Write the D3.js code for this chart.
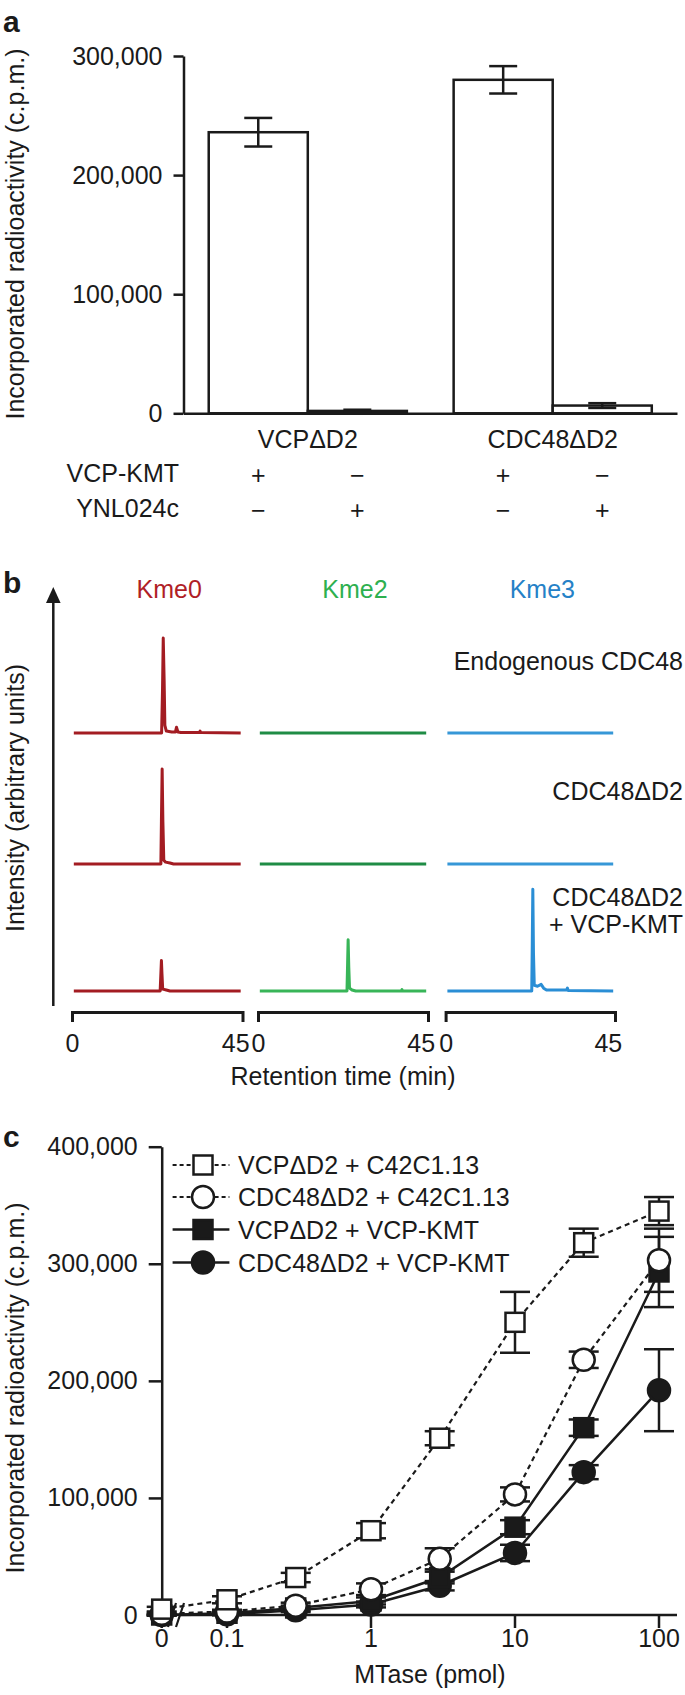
<!DOCTYPE html>
<html><head><meta charset="utf-8">
<script src="https://cdn.jsdelivr.net/npm/d3@7"></script>
<style>
html,body{margin:0;padding:0;background:#fff;}
svg text{font-family:"Liberation Sans",Arial,Helvetica,sans-serif;fill:#1a1a1a;}
</style></head><body>
<svg id="fig" width="685" height="1695"></svg>
<script>
// ---------------- Panel a data ----------------
const aGroups = ["VCPΔD2", "CDC48ΔD2"];
const aEnzymes = ["VCP-KMT", "YNL024c"];
const aMeans = [236000, 2000, 280000, 6500];
const aErrs = [12000, 1000, 11500, 2000];
const aVcpKmtSign = ["+", "−", "+", "−"];
const aYnlSign = ["−", "+", "−", "+"];
const aTicks = [0, 100000, 200000, 300000];

// ---------------- Panel b data (time min, intensity a.u.) ----------------
const bChannels = ["Kme0", "Kme2", "Kme3"];
const bSamples = [["Endogenous CDC48"], ["CDC48ΔD2"], ["CDC48ΔD2", "+ VCP-KMT"]];
const bTimeTicks = [0, 45];
const trEndoKme0 = [[0.5,0],[24.7,0],[24.95,45],[25.15,100],[25.4,55],[25.6,8],[26.0,2],[27.5,1],[28.5,1],[28.8,6],[29.2,1],[30,0.5],[35.1,0.5],[35.3,2],[35.5,0.5],[46.5,0]];
const trEndoKme2 = [[0.5,0],[46.5,0]];
const trEndoKme3 = [[0.5,0],[46.5,0]];
const trD2Kme0 = [[0.5,0],[24.5,0],[24.65,45],[24.85,100],[25.05,45],[25.3,4],[25.8,2],[27,1],[28,0],[46.5,0]];
const trD2Kme2 = [[0.5,0],[46.5,0]];
const trD2Kme3 = [[0.5,0],[46.5,0]];
const trKmtKme0 = [[0.5,0],[24.3,0],[24.5,18],[24.65,32],[24.8,18],[25.0,2],[26,1],[27,0],[46.5,0]];
const trKmtKme2 = [[0.5,0],[24.6,0],[24.78,30],[24.92,54],[25.1,25],[25.3,3],[26,1],[27,0],[39.6,0],[39.8,1.5],[40,0],[46.5,0]];
const trKmtKme3 = [[0.5,0],[23.9,0],[24.05,50],[24.2,107],[24.38,40],[24.6,6],[25.5,5],[26.5,7],[27.2,3],[28,1],[33.6,1],[33.8,3],[34,0.5],[46.5,0]];

// ---------------- Panel c data ----------------
const cDoses = [0, 0.1, 0.3, 1, 3, 10, 30, 100];
const cTicksX = [0, 0.1, 1, 10, 100];
const cTicksY = [0, 100000, 200000, 300000, 400000];
const cNames = ["VCPΔD2 + C42C1.13", "CDC48ΔD2 + C42C1.13", "VCPΔD2 + VCP-KMT", "CDC48ΔD2 + VCP-KMT"];
const vcpC42Mean = [5000, 13000, 32000, 72000, 151000, 250000, 318000, 345000];
const vcpC42Err = [2000, 3000, 4000, 6500, 6000, 26000, 12000, 12000];
const cdcC42Mean = [1000, 3000, 8000, 22000, 48000, 103000, 218000, 303000];
const cdcC42Err = [1000, 1500, 2500, 5000, 9000, 6000, 7000, 27000];
const vcpKmtMean = [0, 1500, 6000, 12000, 32000, 75000, 160000, 293000];
const vcpKmtErr = [500, 1000, 2000, 3000, 5000, 6000, 7000, 30000];
const cdcKmtMean = [0, 500, 4000, 9000, 25000, 53000, 122000, 192000];
const cdcKmtErr = [500, 800, 1500, 2500, 4000, 7000, 6000, 35000];

// ---------------- drawing ----------------
const INK = "#1a1a1a";
const FS = 25;
const svg = d3.select("#fig");
svg.append("rect").attr("width", 685).attr("height", 1695).attr("fill", "#fff");

function panelLetter(t, x, y) {
  svg.append("text").attr("x", x).attr("y", y).attr("font-size", 30).attr("font-weight", "bold").text(t);
}
function yLabel(t, x, y) {
  svg.append("text").attr("transform", `translate(${x},${y}) rotate(-90)`)
    .attr("text-anchor", "middle").attr("font-size", FS).text(t);
}
function styleAxis(g) {
  g.attr("font-size", FS);
  g.selectAll("path,line").attr("stroke", INK).attr("stroke-width", 2.5);
  g.selectAll("text").attr("fill", INK);
}

// ===== Panel a =====
panelLetter("a", 3, 32);
yLabel("Incorporated radioactivity (c.p.m.)", 24, 234);
const ay = d3.scaleLinear().domain([0, 300000]).range([413.3, 56]);
const axG = d3.scaleBand().domain(aGroups).range([183.5, 677]).paddingInner(0.191).paddingOuter(0.103);
const axE = d3.scaleBand().domain(aEnzymes).range([0, axG.bandwidth()]);
const aBars = aMeans.map((m, i) => ({ g: aGroups[Math.floor(i / 2)], e: aEnzymes[i % 2], m, err: aErrs[i], s1: aVcpKmtSign[i], s2: aYnlSign[i] }));
const aG = svg.append("g");
aG.selectAll("rect.bar").data(aBars).join("rect").attr("class", "bar")
  .attr("x", d => axG(d.g) + axE(d.e)).attr("width", axE.bandwidth())
  .attr("y", d => ay(d.m)).attr("height", d => ay(0) - ay(d.m))
  .attr("fill", "#fff").attr("stroke", INK).attr("stroke-width", 2.5);
const aCx = d => axG(d.g) + axE(d.e) + axE.bandwidth() / 2;
const aEb = aG.selectAll("g.eb").data(aBars).join("g").attr("class", "eb");
aEb.append("line").attr("x1", aCx).attr("x2", aCx).attr("y1", d => ay(d.m + d.err)).attr("y2", d => ay(d.m - d.err)).attr("stroke", INK).attr("stroke-width", 2.5);
[1, -1].forEach(sg => aEb.append("line").attr("x1", d => aCx(d) - 14).attr("x2", d => aCx(d) + 14)
  .attr("y1", d => ay(d.m + sg * d.err)).attr("y2", d => ay(d.m + sg * d.err)).attr("stroke", INK).attr("stroke-width", 2.5));
aG.append("g").attr("transform", "translate(183.5,0)")
  .call(d3.axisLeft(ay).tickValues(aTicks).tickSize(10).tickSizeOuter(0).tickPadding(11).tickFormat(d3.format(",")))
  .call(styleAxis);
aG.append("g").attr("transform", `translate(0,${ay(0)})`)
  .call(d3.axisBottom(axG).tickSize(0).tickPadding(17))
  .call(styleAxis);
aG.selectAll("text.s1").data(aBars).join("text").attr("class", "s1").attr("x", aCx).attr("y", 484).attr("text-anchor", "middle").attr("font-size", FS).text(d => d.s1);
aG.selectAll("text.s2").data(aBars).join("text").attr("class", "s2").attr("x", aCx).attr("y", 518.5).attr("text-anchor", "middle").attr("font-size", FS).text(d => d.s2);
aG.append("text").attr("x", 179).attr("y", 482).attr("text-anchor", "end").attr("font-size", FS).text(aEnzymes[0]);
aG.append("text").attr("x", 179).attr("y", 517).attr("text-anchor", "end").attr("font-size", FS).text(aEnzymes[1]);

// ===== Panel b =====
panelLetter("b", 3, 593);
yLabel("Intensity (arbitrary units)", 24, 798);
const bRanges = [[72, 242.5], [258, 428], [445.6, 615]];
const bx = bRanges.map(r => d3.scaleLinear().domain([0, 47]).range(r));
const rowBase = [733, 864, 991];
const by = rowBase.map(b => d3.scaleLinear().domain([0, 100]).range([b, b - 95]));
const bTraces = [[trEndoKme0, trEndoKme2, trEndoKme3], [trD2Kme0, trD2Kme2, trD2Kme3], [trKmtKme0, trKmtKme2, trKmtKme3]];
const bLabelColors = ["#b01e27", "#2db04f", "#2581c7"];
const bLineColors = [["#a31c22", "#1f8c45", "#3797d7"], ["#a31c22", "#1f8c45", "#3797d7"], ["#a31c22", "#38b558", "#2a8ed5"]];
const bG = svg.append("g");
bChannels.forEach((ch, c) => {
  bG.append("text").attr("x", (bRanges[c][0] + bRanges[c][1]) / 2 + 12).attr("y", 598).attr("text-anchor", "middle")
    .attr("font-size", FS).style("fill", bLabelColors[c]).text(ch);
});
bTraces.forEach((row, r) => row.forEach((tr, c) => {
  const line = d3.line().x(d => bx[c](d[0])).y(d => by[r](d[1]));
  bG.append("path").attr("d", line(tr)).attr("fill", "none").attr("stroke", bLineColors[r][c])
    .attr("stroke-width", 3).attr("stroke-linejoin", "round");
}));
const bLabelBase = [[670], [800], [906, 933]];
bSamples.forEach((lines, r) => lines.forEach((t, k) => {
  bG.append("text").attr("x", 683).attr("y", bLabelBase[r][k]).attr("text-anchor", "end").attr("font-size", FS).text(t);
}));
// intensity arrow
bG.append("line").attr("x1", 53.3).attr("x2", 53.3).attr("y1", 1006).attr("y2", 598).attr("stroke", INK).attr("stroke-width", 2.5);
bG.append("path").attr("d", "M53.3,587 L46,603 L60.6,603 Z").attr("fill", INK);
// time axes
bx.forEach((s, c) => {
  const g = bG.append("g").attr("transform", "translate(0,1012)");
  g.call(d3.axisBottom(s).tickValues(bTimeTicks).tickSizeInner(0).tickSizeOuter(10).tickPadding(22));
  styleAxis(g);
  g.select("path.domain").attr("stroke-width", 3);
});
bG.append("text").attr("x", 343).attr("y", 1085).attr("text-anchor", "middle").attr("font-size", FS).text("Retention time (min)");

// ===== Panel c =====
panelLetter("c", 3, 1147);
yLabel("Incorporated radioactivity (c.p.m.)", 24, 1388);
const cx = d3.scaleLog().domain([0.1, 100]).range([227, 659]);
const cZeroX = 161.7;
const cxPos = d => d === 0 ? cZeroX : cx(d);
const cy = d3.scaleLinear().domain([0, 400000]).range([1615, 1146.7]);
const cG = svg.append("g");
cG.append("g").attr("transform", `translate(${cZeroX},0)`)
  .call(d3.axisLeft(cy).tickValues(cTicksY).tickSize(13).tickSizeOuter(0).tickPadding(11).tickFormat(d3.format(",")))
  .call(styleAxis);
// x axis with break
const xAxisY = cy(0);
cG.append("line").attr("x1", cZeroX).attr("x2", 172).attr("y1", xAxisY).attr("y2", xAxisY).attr("stroke", INK).attr("stroke-width", 2.5);
cG.append("line").attr("x1", 180).attr("x2", 677).attr("y1", xAxisY).attr("y2", xAxisY).attr("stroke", INK).attr("stroke-width", 2.5);
[168, 176].forEach(x0 => cG.append("line").attr("x1", x0).attr("y1", xAxisY + 12).attr("x2", x0 + 8).attr("y2", xAxisY - 12).attr("stroke", INK).attr("stroke-width", 2.2));
cG.selectAll("line.xt").data(cTicksX).join("line").attr("class", "xt")
  .attr("x1", cxPos).attr("x2", cxPos).attr("y1", xAxisY).attr("y2", xAxisY + 13).attr("stroke", INK).attr("stroke-width", 2.5);
cG.selectAll("text.xl").data(cTicksX).join("text").attr("class", "xl")
  .attr("x", cxPos).attr("y", 1647).attr("text-anchor", "middle").attr("font-size", FS).text(d => String(d));
cG.append("text").attr("x", 430).attr("y", 1683).attr("text-anchor", "middle").attr("font-size", FS).text("MTase (pmol)");

const cSeries = [
  { name: cNames[3], mean: cdcKmtMean, err: cdcKmtErr, shape: "circle", filled: true, dashed: false },
  { name: cNames[2], mean: vcpKmtMean, err: vcpKmtErr, shape: "square", filled: true, dashed: false },
  { name: cNames[1], mean: cdcC42Mean, err: cdcC42Err, shape: "circle", filled: false, dashed: true },
  { name: cNames[0], mean: vcpC42Mean, err: vcpC42Err, shape: "square", filled: false, dashed: true }
];
function marker(g, s, x, y) {
  if (s.shape === "square") {
    g.append("rect").attr("x", x - 9.5).attr("y", y - 9.5).attr("width", 19).attr("height", 19)
      .attr("fill", s.filled ? INK : "#fff").attr("stroke", INK).attr("stroke-width", 2.5);
  } else {
    g.append("circle").attr("cx", x).attr("cy", y).attr("r", 11)
      .attr("fill", s.filled ? INK : "#fff").attr("stroke", INK).attr("stroke-width", 2.5);
  }
}
const cLine = d3.line().x(d => cxPos(d.x)).y(d => cy(d.y));
cSeries.forEach(s => {
  const pts = cDoses.map((x, i) => ({ x, y: s.mean[i], e: s.err[i] }));
  cG.append("path").attr("d", cLine(pts)).attr("fill", "none").attr("stroke", INK)
    .attr("stroke-width", s.dashed ? 2.2 : 2.5).attr("stroke-dasharray", s.dashed ? "5,4" : null);
  s.pts = pts;
});
cSeries.forEach(s => {
  s.pts.forEach(p => {
    const X = cxPos(p.x);
    cG.append("line").attr("x1", X).attr("x2", X).attr("y1", cy(p.y + p.e)).attr("y2", cy(Math.max(0, p.y - p.e))).attr("stroke", INK).attr("stroke-width", 2.5);
    [p.y + p.e, p.y - p.e].forEach(v => cG.append("line").attr("x1", X - 15).attr("x2", X + 15).attr("y1", cy(v)).attr("y2", cy(v)).attr("stroke", INK).attr("stroke-width", 2.5));
  });
});
cSeries.forEach(s => s.pts.forEach(p => marker(cG, s, cxPos(p.x), cy(p.y))));

// legend
const legOrder = [3, 2, 1, 0];
const legY = [1165, 1197, 1229.5, 1262.5];
legOrder.forEach((si, k) => {
  const s = cSeries[si];
  const y = legY[k];
  cG.append("line").attr("x1", 172.6).attr("x2", 229.4).attr("y1", y).attr("y2", y).attr("stroke", INK)
    .attr("stroke-width", s.dashed ? 2.2 : 2.5).attr("stroke-dasharray", s.dashed ? "4,3" : null);
  marker(cG, s, 203, y);
  cG.append("text").attr("x", 238).attr("y", y + 9).attr("font-size", FS).text(s.name);
});
</script></body></html>
